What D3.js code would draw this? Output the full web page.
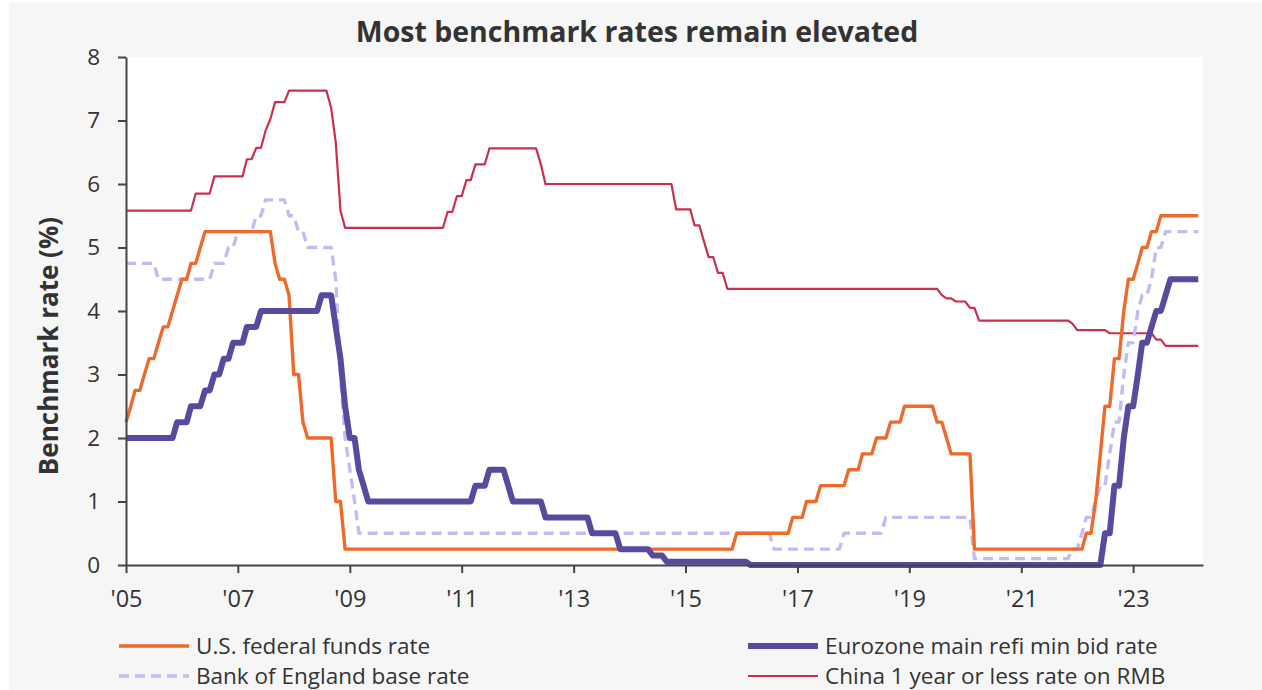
<!DOCTYPE html>
<head>
    <meta charset="utf-8">
    <script src="https://d3js.org/d3.v7.min.js"></script>
    <style>
        body { margin:0; background:#ffffff; }
        svg { display:block; font-family:"Open Sans", sans-serif; }
    </style>
</head>
<body>
    <svg id="chart" width="1262" height="690"></svg>

    <script>
        // month ("YYYY-MM") and rate, corner points
        var fedFunds = [
            ["2005-01",2.25],["2005-02",2.5],["2005-03",2.75],["2005-04",2.75],["2005-05",3.0],["2005-06",3.25],
            ["2005-07",3.25],["2005-08",3.5],["2005-09",3.75],["2005-10",3.75],["2005-11",4.0],["2005-12",4.25],
            ["2006-01",4.5],["2006-02",4.5],["2006-03",4.75],["2006-04",4.75],["2006-05",5.0],["2006-06",5.25],
            ["2007-08",5.25],["2007-09",4.75],["2007-10",4.5],["2007-11",4.5],["2007-12",4.25],["2008-01",3.0],
            ["2008-02",3.0],["2008-03",2.25],["2008-04",2.0],["2008-09",2.0],["2008-10",1.0],["2008-11",1.0],
            ["2008-12",0.25],["2015-11",0.25],["2015-12",0.5],["2016-11",0.5],["2016-12",0.75],["2017-02",0.75],
            ["2017-03",1.0],["2017-05",1.0],["2017-06",1.25],["2017-11",1.25],["2017-12",1.5],["2018-02",1.5],
            ["2018-03",1.75],["2018-05",1.75],["2018-06",2.0],["2018-08",2.0],["2018-09",2.25],["2018-11",2.25],
            ["2018-12",2.5],["2019-06",2.5],["2019-07",2.25],["2019-08",2.25],["2019-09",2.0],["2019-10",1.75],
            ["2020-02",1.75],["2020-03",0.25],["2022-02",0.25],["2022-03",0.5],["2022-04",0.5],["2022-05",1.0],
            ["2022-06",1.75],["2022-07",2.5],["2022-08",2.5],["2022-09",3.25],["2022-10",3.25],["2022-11",4.0],
            ["2022-12",4.5],["2023-01",4.5],["2023-02",4.75],["2023-03",5.0],["2023-04",5.0],["2023-05",5.25],
            ["2023-06",5.25],["2023-07",5.5],["2024-03",5.5]
        ];
        var ecbRefi = [
            ["2005-01",2.0],["2005-11",2.0],["2005-12",2.25],["2006-02",2.25],["2006-03",2.5],["2006-05",2.5],
            ["2006-06",2.75],["2006-07",2.75],["2006-08",3.0],["2006-09",3.0],["2006-10",3.25],["2006-11",3.25],
            ["2006-12",3.5],["2007-02",3.5],["2007-03",3.75],["2007-05",3.75],["2007-06",4.0],["2008-06",4.0],
            ["2008-07",4.25],["2008-09",4.25],["2008-10",3.75],["2008-11",3.25],["2008-12",2.5],["2009-01",2.0],
            ["2009-02",2.0],["2009-03",1.5],["2009-04",1.25],["2009-05",1.0],["2011-03",1.0],["2011-04",1.25],
            ["2011-06",1.25],["2011-07",1.5],["2011-10",1.5],["2011-11",1.25],["2011-12",1.0],["2012-06",1.0],
            ["2012-07",0.75],["2013-04",0.75],["2013-05",0.5],["2013-10",0.5],["2013-11",0.25],["2014-05",0.25],
            ["2014-06",0.15],["2014-08",0.15],["2014-09",0.05],["2016-02",0.05],["2016-03",0.0],["2022-06",0.0],
            ["2022-07",0.5],["2022-08",0.5],["2022-09",1.25],["2022-10",1.25],["2022-11",2.0],["2022-12",2.5],
            ["2023-01",2.5],["2023-02",3.0],["2023-03",3.5],["2023-04",3.5],["2023-05",3.75],["2023-06",4.0],
            ["2023-07",4.0],["2023-08",4.25],["2023-09",4.5],["2024-03",4.5]
        ];
        var boeBase = [
            ["2005-01",4.75],["2005-07",4.75],["2005-08",4.5],["2006-07",4.5],["2006-08",4.75],["2006-10",4.75],
            ["2006-11",5.0],["2006-12",5.0],["2007-01",5.25],["2007-04",5.25],["2007-05",5.5],["2007-06",5.5],
            ["2007-07",5.75],["2007-11",5.75],["2007-12",5.5],["2008-01",5.5],["2008-02",5.25],["2008-03",5.25],
            ["2008-04",5.0],["2008-09",5.0],["2008-10",4.5],["2008-11",3.0],["2008-12",2.0],["2009-01",1.5],
            ["2009-02",1.0],["2009-03",0.5],["2016-07",0.5],["2016-08",0.25],["2017-10",0.25],["2017-11",0.5],
            ["2018-07",0.5],["2018-08",0.75],["2020-02",0.75],["2020-03",0.1],["2021-11",0.1],["2021-12",0.25],
            ["2022-01",0.25],["2022-02",0.5],["2022-03",0.75],["2022-04",0.75],["2022-05",1.0],["2022-06",1.25],
            ["2022-07",1.25],["2022-08",1.75],["2022-09",2.25],["2022-10",2.25],["2022-11",3.0],["2022-12",3.5],
            ["2023-01",3.5],["2023-02",4.0],["2023-03",4.25],["2023-04",4.25],["2023-05",4.5],["2023-06",5.0],
            ["2023-07",5.0],["2023-08",5.25],["2024-03",5.25]
        ];
        var chinaRmb = [
            ["2005-01",5.58],["2006-03",5.58],["2006-04",5.85],["2006-07",5.85],["2006-08",6.12],["2007-02",6.12],
            ["2007-03",6.39],["2007-04",6.39],["2007-05",6.57],["2007-06",6.57],["2007-07",6.84],["2007-08",7.02],
            ["2007-09",7.29],["2007-11",7.29],["2007-12",7.47],["2008-08",7.47],["2008-09",7.2],["2008-10",6.66],
            ["2008-11",5.58],["2008-12",5.31],["2010-09",5.31],["2010-10",5.56],["2010-11",5.56],["2010-12",5.81],
            ["2011-01",5.81],["2011-02",6.06],["2011-03",6.06],["2011-04",6.31],["2011-06",6.31],["2011-07",6.56],
            ["2012-05",6.56],["2012-06",6.31],["2012-07",6.0],["2014-10",6.0],["2014-11",5.6],["2015-02",5.6],
            ["2015-03",5.35],["2015-04",5.35],["2015-05",5.1],["2015-06",4.85],["2015-07",4.85],["2015-08",4.6],
            ["2015-09",4.6],["2015-10",4.35],["2019-07",4.35],["2019-08",4.25],["2019-09",4.2],["2019-10",4.2],
            ["2019-11",4.15],["2020-01",4.15],["2020-02",4.05],["2020-03",4.05],["2020-04",3.85],["2021-11",3.85],
            ["2021-12",3.8],["2022-01",3.7],["2022-07",3.7],["2022-08",3.65],["2023-05",3.65],["2023-06",3.55],
            ["2023-07",3.55],["2023-08",3.45],["2024-03",3.45]
        ];

        var xTickYears = [2005, 2007, 2009, 2011, 2013, 2015, 2017, 2019, 2021, 2023];
        var yTicks = [0, 1, 2, 3, 4, 5, 6, 7, 8];

        var seriesNames = ["U.S. federal funds rate", "Eurozone main refi min bid rate",
                           "Bank of England base rate", "China 1 year or less rate on RMB"];

        // drawing order: China, BoE, Fed, ECB on top
        var series = [
            {name: seriesNames[3], data: chinaRmb, color: "#c9304f", width: 2.2, dash: null},
            {name: seriesNames[2], data: boeBase, color: "#c3bbf1", width: 3.4, dash: "10,6"},
            {name: seriesNames[0], data: fedFunds, color: "#ee6a2c", width: 3.4, dash: null},
            {name: seriesNames[1], data: ecbRefi, color: "#5a4a9e", width: 6, dash: null}
        ];

        var svg = d3.select("#chart");
        var parseMonth = d3.timeParse("%Y-%m");

        var plotLeft = 126, plotRight = 1203, plotTop = 57, plotBottom = 565;

        var x = d3.scaleTime()
            .domain([new Date(2005, 0, 1), new Date(2024, 3, 1)])
            .range([plotLeft, plotRight]);
        var y = d3.scaleLinear().domain([0, 8]).range([plotBottom, plotTop]);

        // backgrounds
        svg.append("rect").attr("x", 9).attr("y", 3).attr("width", 1253).attr("height", 687).attr("fill", "#f6f6f6");
        svg.append("rect").attr("x", plotLeft).attr("y", plotTop)
            .attr("width", plotRight - plotLeft).attr("height", plotBottom - plotTop).attr("fill", "#ffffff");

        // title
        svg.append("text")
            .attr("x", 637).attr("y", 42)
            .attr("text-anchor", "middle")
            .style("font-size", "28.5px").style("font-weight", "bold").style("fill", "#333")
            .text("Most benchmark rates remain elevated");

        // lines
        var line = d3.line()
            .x(function(d) { return x(parseMonth(d[0])); })
            .y(function(d) { return y(d[1]); });

        series.forEach(function(s) {
            svg.append("path")
                .datum(s.data)
                .attr("d", line)
                .attr("fill", "none")
                .attr("stroke", s.color)
                .attr("stroke-width", s.width)
                .attr("stroke-linejoin", "round")
                .attr("stroke-dasharray", s.dash);
        });

        // axes
        var xAxis = d3.axisBottom(x)
            .tickValues(xTickYears.map(function(yr) { return new Date(yr, 0, 1); }))
            .tickFormat(d3.timeFormat("'%y"))
            .tickSize(8).tickSizeOuter(0).tickPadding(17);
        var gx = svg.append("g").attr("transform", "translate(0," + plotBottom + ")").call(xAxis);

        var yAxis = d3.axisLeft(y).tickValues(yTicks).tickSize(8).tickSizeOuter(0).tickPadding(18);
        var gy = svg.append("g").attr("transform", "translate(" + plotLeft + ",0)").call(yAxis);

        [gx, gy].forEach(function(g) {
            g.selectAll("path, line").attr("stroke", "#444").attr("stroke-width", 2);
            g.selectAll("text").style("font-size", "22.5px").style("fill", "#333")
                .style("font-family", "'Open Sans', sans-serif");
        });
        gx.selectAll("text").style("font-size", "23.5px");

        svg.append("text")
            .attr("transform", "translate(58," + ((plotTop + plotBottom) / 2 + 35) + ") rotate(-90)")
            .attr("text-anchor", "middle")
            .style("font-size", "26px").style("font-weight", "bold").style("fill", "#333")
            .text("Benchmark rate (%)");

        // legend
        var legendItems = [
            {s: series[2], lx: 119, ly: 646},
            {s: series[3], lx: 748, ly: 646},
            {s: series[1], lx: 119, ly: 676},
            {s: series[0], lx: 748, ly: 676}
        ];
        var legend = svg.append("g").selectAll("g").data(legendItems).enter().append("g")
            .attr("transform", function(d) { return "translate(" + d.lx + "," + d.ly + ")"; });
        legend.append("line")
            .attr("x1", 0).attr("x2", 70).attr("y1", 0).attr("y2", 0)
            .attr("stroke", function(d) { return d.s.color; })
            .attr("stroke-width", function(d) { return d.s.width; })
            .attr("stroke-dasharray", function(d) { return d.s.dash; });
        legend.append("text")
            .attr("x", 77).attr("y", 0).attr("dy", "0.35em")
            .style("font-size", "22.5px").style("fill", "#333")
            .text(function(d) { return d.s.name; });
    </script>
</body>
